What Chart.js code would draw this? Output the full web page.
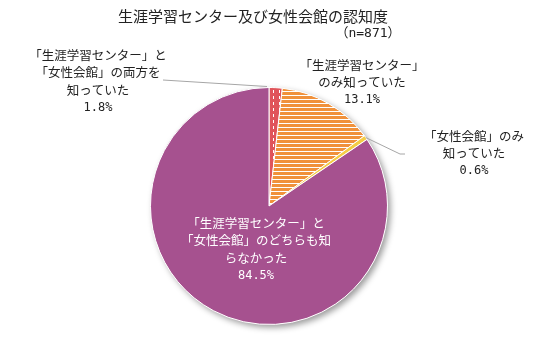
<!DOCTYPE html>
<html>
<head>
<meta charset="utf-8">
<script src="https://cdn.jsdelivr.net/npm/chart.js@4.4.1/dist/chart.umd.min.js"></script>
<style>
  html, body { margin: 0; padding: 0; background: #fff; }
  #wrap { width: 537px; height: 358px; }
</style>
</head>
<body>
<div id="wrap"><canvas id="awarenessPie" width="537" height="358"></canvas></div>
<script>
// data
const categories = [
    '「生涯学習センター」と「女性会館」の両方を知っていた',
    '「生涯学習センター」のみ知っていた',
    '「女性会館」のみ知っていた',
    '「生涯学習センター」と「女性会館」のどちらも知らなかった'
];
const shares = [1.8, 13.1, 0.6, 84.5];
const labelLines = [
    ['「生涯学習センター」と', '「女性会館」の両方を', '知っていた'],
    ['「生涯学習センター」', 'のみ知っていた'],
    ['「女性会館」のみ', '知っていた'],
    ['「生涯学習センター」と', '「女性会館」のどちらも知', 'らなかった']
];
const chartTitle = '生涯学習センター及び女性会館の認知度';
const sampleNote = '（n=871）';

const FONT = '"Noto Sans CJK JP", "Noto Sans", sans-serif';
const MONO = '"DejaVu Sans Mono", "Liberation Mono", monospace';

// pattern fills
function makePattern(w, h, draw) {
    const c = document.createElement('canvas');
    c.width = w; c.height = h;
    const g = c.getContext('2d');
    draw(g);
    return g.createPattern(c, 'repeat');
}
const ctx0 = document.getElementById('awarenessPie').getContext('2d');
const redDash = makePattern(6, 6, g => {
    g.fillStyle = '#E0545A';
    g.fillRect(0, 0, 6, 6);
    g.fillStyle = '#ffffff';
    g.fillRect(3, 0, 1, 3);
});
const orangeStripe = makePattern(4, 4, g => {
    g.fillStyle = '#F0913B';
    g.fillRect(0, 0, 4, 4);
    g.fillStyle = '#ffffff';
    g.fillRect(0, 3, 4, 1);
});

// label anchors (x center, first line y) and colours
const labelLayout = [
    { x: 98, y: 55, color: '#222' },
    { x: 362, y: 65, color: '#222' },
    { x: 474, y: 136, color: '#222' },
    { x: 256, y: 223, color: '#fff' }
];

const shadowPlugin = {
    id: 'pieShadow',
    beforeDatasetsDraw(chart) {
        const arc = chart.getDatasetMeta(0).data[0];
        if (!arc) return;
        const ctx = chart.ctx;
        ctx.save();
        ctx.shadowColor = 'rgba(0,0,0,0.4)';
        ctx.shadowBlur = 6;
        ctx.shadowOffsetX = 3;
        ctx.shadowOffsetY = 3;
        ctx.fillStyle = '#ffffff';
        ctx.beginPath();
        ctx.arc(arc.x, arc.y, arc.outerRadius, 0, Math.PI * 2);
        ctx.fill();
        ctx.restore();
    }
};

const labelPlugin = {
    id: 'sliceLabels',
    afterDraw(chart) {
        const ctx = chart.ctx;
        const arcs = chart.getDatasetMeta(0).data;
        ctx.save();

        // title
        ctx.fillStyle = '#222';
        ctx.textAlign = 'center';
        ctx.textBaseline = 'middle';
        ctx.font = '15px ' + FONT;
        ctx.fillText(chartTitle, 253, 16);
        ctx.font = '13px ' + MONO.replace('monospace', '"Noto Sans CJK JP"');
        ctx.fillText(sampleNote, 368, 34);

        // leader lines
        ctx.strokeStyle = '#a6a6a6';
        ctx.lineWidth = 1;
        const a0 = arcs[0];
        ctx.beginPath();
        ctx.moveTo(163, 80);
        ctx.lineTo(a0.x + Math.cos(a0.startAngle) * a0.outerRadius - 2,
                   a0.y + Math.sin(a0.startAngle) * a0.outerRadius - 1);
        ctx.stroke();

        const a2 = arcs[2];
        const mid2 = (a2.startAngle + a2.endAngle) / 2;
        ctx.beginPath();
        ctx.moveTo(a2.x + Math.cos(mid2) * a2.outerRadius, a2.y + Math.sin(mid2) * a2.outerRadius);
        ctx.lineTo(400, 154);
        ctx.lineTo(405, 154);
        ctx.stroke();

        // slice labels
        labelLines.forEach((lines, i) => {
            const pos = labelLayout[i];
            ctx.fillStyle = pos.color;
            ctx.font = '12.5px ' + FONT;
            lines.forEach((t, k) => ctx.fillText(t, pos.x, pos.y + k * 17.5));
            ctx.font = '12px ' + MONO;
            ctx.fillText(shares[i].toFixed(1) + '%', pos.x, pos.y + lines.length * 17.5);
        });
        ctx.restore();
    }
};

new Chart(ctx0, {
    type: 'pie',
    data: {
        labels: categories,
        datasets: [{
            data: shares,
            backgroundColor: [redDash, orangeStripe, '#F5CD45', '#A6518F'],
            borderColor: '#ffffff',
            borderWidth: 1
        }]
    },
    options: {
        responsive: false,
        animation: false,
        devicePixelRatio: 1,
        layout: { padding: { top: 87, bottom: 33, left: 150, right: 149 } },
        plugins: {
            legend: { display: false },
            tooltip: { enabled: false },
            title: { display: false }
        }
    },
    plugins: [shadowPlugin, labelPlugin]
});
</script>
</body>
</html>
